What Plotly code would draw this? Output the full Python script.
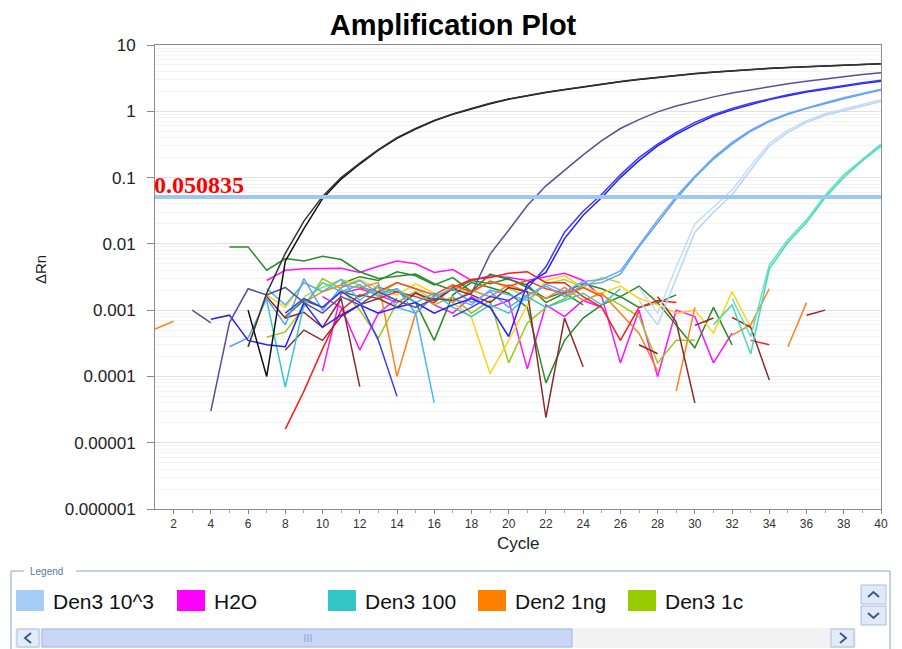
import math
import plotly.graph_objects as go

# ---------------- data ----------------
cycles = list(range(1, 41))

# amplification curves (start cycle, values)
black_a_start = 6
black_a = [0.001, 0.0001, 0.0055, 0.017, 0.048, 0.095, 0.16, 0.26, 0.39, 0.54, 0.72, 0.9, 1.08,
           1.3, 1.52, 1.72, 1.92, 2.12, 2.34, 2.56, 2.8, 3.02, 3.24, 3.46, 3.68, 3.88, 4.08, 4.26,
           4.42, 4.56, 4.7, 4.84, 4.96, 5.08, 5.2]
black_b_start = 6
black_b = [0.00028, 0.0018, 0.0072, 0.022, 0.052, 0.1, 0.165, 0.265, 0.4, 0.55, 0.73, 0.91, 1.1,
           1.32, 1.54, 1.74, 1.94, 2.14, 2.36, 2.58, 2.82, 3.04, 3.26, 3.48, 3.7, 3.9, 4.1, 4.28,
           4.44, 4.58, 4.72, 4.86, 4.98, 5.1, 5.22]
dslate_start = 4
dslate = [0.00003, 0.00065, 0.0021, 0.0017, 0.0022, 0.0013, 0.0009, 0.0016, 0.0012, 0.0019,
          0.0014, 0.0011, 0.0015, 0.0014, 0.0018, 0.007, 0.016, 0.038, 0.075, 0.13, 0.22, 0.36,
          0.55, 0.75, 0.98, 1.2, 1.42, 1.65, 1.88, 2.1, 2.35, 2.6, 2.85, 3.1, 3.35, 3.6, 3.8]
dslate_seg_start = 3
dslate_seg = [0.001, 0.00064]
blue1_start = 4
blue1 = [0.00073, 0.00084, 0.00035, 0.0003, 0.00028, 0.0013, 0.00055, 0.00085, 0.0012, 0.0009,
         0.0011, 0.0013, 0.0009, 0.0012, 0.0015, 0.0011, 0.0004, 0.0025, 0.0037, 0.012, 0.027,
         0.05, 0.1, 0.18, 0.3, 0.45, 0.63, 0.85, 1.05, 1.27, 1.5, 1.72, 1.95, 2.15, 2.4, 2.62, 2.85]
blue2_start = 8
blue2 = [0.0009, 0.0015, 0.0011, 0.0019, 0.0013, 0.00035, 0.00005, None, None, 0.0008, 0.0011,
         0.0016, 0.0014, 0.0021, 0.0045, 0.015, 0.031, 0.056, 0.11, 0.2, 0.32, 0.48, 0.68, 0.89,
         1.1, 1.32, 1.55, 1.78, 2.0, 2.22, 2.47, 2.7, 2.95]
cflower1_start = 5
cflower1 = [0.00028, 0.00038, 0.0015, 0.0006, 0.003, 0.001, 0.0022, 0.0028, 0.0018, 0.0021,
            0.0009, 0.0016, 0.0021, 0.0013, 0.0019, 0.0011, 0.0017, 0.0023, 0.0016, 0.0024,
            0.0026, 0.0035, 0.009, 0.021, 0.048, 0.1, 0.19, 0.32, 0.5, 0.7, 0.9, 1.1, 1.32,
            1.55, 1.8, 2.1]
cflower2_start = 17
cflower2 = [0.0015, 0.0012, 0.002, 0.0017, 0.0014, 0.0025, 0.0019, 0.0027, 0.0029, 0.0039,
            0.0095, 0.023, 0.052, 0.105, 0.2, 0.34, 0.52, 0.72, 0.93, 1.13, 1.35, 1.6, 1.85, 2.15]
skyblue_start = 7
skyblue = [0.0021, 0.0012, 0.0026, 0.0019, 0.0029, 0.0014, 0.0024, 0.0011, 0.0009, 0.00004]
vlight_a_start = 27
vlight_a = [0.0014, 0.0006, 0.003, 0.015, 0.03, 0.055, 0.13, 0.3, 0.48, 0.68, 0.87, 1.02, 1.2, 1.4]
vlight_b_start = 27
vlight_b = [0.0022, 0.0009, 0.0045, 0.02, 0.036, 0.065, 0.15, 0.33, 0.52, 0.72, 0.92, 1.08, 1.27, 1.5]
turq_a_start = 31
turq_a = [0.0006, 0.0012, 0.00022, 0.0042, 0.0105, 0.021, 0.05, 0.1, 0.18, 0.3]
turq_b_start = 32
turq_b = [0.0015, 0.0004, 0.0048, 0.0115, 0.023, 0.054, 0.11, 0.19, 0.32]

# baseline / no-amplification traces
magenta1_start = 7
magenta1 = [0.0028, 0.004, 0.0042, 0.0043, 0.0043, 0.0037, 0.0046, 0.0055, 0.005, 0.0037,
            0.0041, 0.0028, 0.0033, 0.0031, 0.0028, 0.0032, 0.0036, 0.0028, 0.0016, 0.00016,
            0.001, 0.0001, 0.001, 0.0008, 0.00016, 0.00045]
magenta2_start = 10
magenta2 = [0.00012, 0.0018, 0.0021, 0.0017, 0.0013, 0.0019, 0.0012, 0.0009, 0.0016, 0.0011,
            0.0014, 0.00013, 0.0012, 0.0008, 0.0014, 0.0011]
magenta3_start = 10
magenta3 = [0.0016, 0.0011, 0.00025, 0.0009, 0.0015]
green1_start = 5
green1 = [0.009, 0.009, 0.004, 0.006, 0.0055, 0.0065, 0.0058, 0.0038, 0.003, 0.0032, 0.0035,
          0.0025, 0.002, 0.0028, 0.0025, 0.003, 0.0022, 0.0015, 0.0019, 0.0025, 0.0021, 0.0016,
          0.0023, 0.0013, 0.0017]
green2_start = 8
green2 = [0.0008, 0.0014, 0.0011, 0.0019, 0.0016, 0.0022, 0.0019, 0.0013, 0.00035, 0.0017,
          0.0026, 0.0022, 0.0018, 0.0011, 0.00008, 0.00035, 0.00076, 0.0012, 0.0016, 0.0011,
          0.0013, 0.0006, 0.00027, 0.0011, 0.0003]
green3_start = 11
green3 = [0.0025, 0.0032, 0.0028, 0.0038, 0.0033, 0.0024, 0.0031, 0.0019, 0.0035, 0.0029,
          0.0024, 0.0013, 0.0018, 0.0012]
ygreen1_start = 7
ygreen1 = [0.00039, 0.00047, 0.0011, 0.003, 0.0021, 0.001, 0.00038, 0.0013, 0.0019, 0.0012,
           0.0016, 0.0009, 0.0014, 0.00016, 0.00064, 0.0011, 0.0015, 0.0022, 0.0017, 0.0012,
           0.0008, 0.00016, 0.00035, 0.00035]
ygreen2_start = 9
ygreen2 = [0.0016, 0.0022, 0.0029, 0.0024, 0.0017, 0.0026, 0.0021, 0.0014, 0.0023, 0.0018,
           0.0028, 0.0021, 0.0016, 0.0025, 0.0029, 0.0022, 0.0031, 0.0026]
yellow1_start = 6
yellow1 = [0.00028, 0.0017, 0.0011, 0.0026, 0.0019, 0.0024, 0.0029, 0.0021, 0.0017, 0.0025,
           0.0018, 0.0013, 0.00078, 0.00011, 0.00035, 0.0012, 0.0028, 0.0033, 0.0022, 0.0018,
           0.0023, 0.0015, 0.0012, 0.0009, 0.001, 0.00045, 0.0019, 0.00055]
orange1_start = 1
orange1 = [0.00052, 0.00068]
orange2_start = 9
orange2 = [0.0013, 0.0019, 0.0024, 0.0022, 0.0026, 0.0001, 0.0009, 0.0017, 0.0013, 0.002,
           0.0016, 0.0024, 0.0019, 0.0015, 0.0022, 0.0014, 0.0018, 0.0009, 0.00045, 0.00012]
orange3_start = 29
orange3 = [0.00006, 0.0011]
orange4_start = 32
orange4 = [0.00042, 0.0006, 0.0021]
orange5_start = 35
orange5 = [0.00028, 0.0013]
red1_start = 8
red1 = [0.000016, 0.00006, 0.00026, 0.001, 0.0017, 0.0015, 0.0019, 0.0016, 0.0013, 0.0022,
        0.0029, 0.0031, 0.0036, 0.0038, 0.0026, 0.0026, 0.0016, 0.0011, 0.00035, 0.0011,
        0.0014, 0.0013]
red2_start = 12
red2 = [0.0022, 0.0019, 0.0026, 0.0021, 0.0017, 0.0024, 0.0019, 0.0027, 0.0023, 0.0028,
        0.0021, 0.0018, 0.0022, 0.0016]
red3_start = 33
red3 = [0.00035, 0.0003]
brown1_start = 7
brown1 = [0.0016, 0.00076, 0.00093, 0.00055, 0.0015, 0.00007]
brown2_start = 8
brown2 = [0.00025, 0.0005, 0.00035, 0.0008, 0.0012, 0.0015, 0.0011, 0.0018, 0.0014, 0.0021,
          0.0017, 0.0013, 0.0022, 0.0019, 0.000024, 0.00076, 0.00014]
brown3_start = 27
brown3 = [0.0003, 0.00022]
brown4_start = 28
brown4 = [0.0016, 0.00066, 0.00004]
brown5_start = 30
brown5 = [0.00059, 0.00076]
brown6_start = 32
brown6 = [0.00078, 0.00055, 0.000088]
brown7_start = 36
brown7 = [0.00084, 0.001]
teal_start = 7
teal = [0.0014, 0.000069, 0.0012, 0.0026, 0.0019, 0.0024, 0.0016, 0.0021, 0.0013, 0.0018,
        0.0011, 0.0008, 0.0012, 0.0009, 0.0016, 0.0011, 0.0014, 0.0018, 0.0012, 0.0021]

threshold = 0.050835
threshold_label = "0.050835"

y_tickvals = [1e-6, 1e-5, 1e-4, 1e-3, 1e-2, 1e-1, 1, 10]
y_ticktext = ["0.000001", "0.00001", "0.0001", "0.001", "0.01", "0.1", "1", "10"]
x_tickvals = list(range(2, 41, 2))

legend_labels = ["Den3 10^3", "H2O", "Den3 100", "Den2 1ng", "Den3 1c"]
legend_colors = ["#a6cdf5", "#ff00ff", "#33c6c6", "#ff7f00", "#99cc00"]

# ---------------- styling ----------------
C_BLACK = "#111111"
C_DSLATE = "#55509c"
C_BLUE = "#2020ff"
C_CFLOWER = "#5ea0f6"
C_SKY = "#4ab6f2"
C_VLIGHT = "#b8d4f4"
C_TURQ = "#46d8b8"
C_MAG = "#ff10ff"
C_GREEN = "#2a8c2a"
C_YG = "#99cc11"
C_YEL = "#ffd21a"
C_ORA = "#ff8020"
C_RED = "#ff1a1a"
C_BROWN = "#8b2a2a"
C_TEAL = "#33c8cc"

noise_series = [
    (magenta1_start, magenta1, C_MAG), (magenta2_start, magenta2, C_MAG),
    (magenta3_start, magenta3, C_MAG),
    (green1_start, green1, C_GREEN), (green2_start, green2, C_GREEN),
    (green3_start, green3, C_GREEN),
    (ygreen1_start, ygreen1, C_YG), (ygreen2_start, ygreen2, "#b2d633"),
    (yellow1_start, yellow1, C_YEL),
    (orange1_start, orange1, C_ORA), (orange2_start, orange2, C_ORA),
    (orange3_start, orange3, C_ORA), (orange4_start, orange4, C_ORA),
    (orange5_start, orange5, C_ORA),
    (red1_start, red1, C_RED), (red2_start, red2, "#ff4422"), (red3_start, red3, C_RED),
    (brown1_start, brown1, C_BROWN), (brown2_start, brown2, C_BROWN),
    (brown3_start, brown3, C_BROWN), (brown4_start, brown4, C_BROWN),
    (brown5_start, brown5, C_BROWN), (brown6_start, brown6, C_BROWN),
    (brown7_start, brown7, C_BROWN),
    (teal_start, teal, C_TEAL), (skyblue_start, skyblue, C_SKY),
    (dslate_seg_start, dslate_seg, C_DSLATE),
]
amp_series = [
    (vlight_a_start, vlight_a, C_VLIGHT), (vlight_b_start, vlight_b, "#c6dcf2"),
    (turq_a_start, turq_a, C_TURQ), (turq_b_start, turq_b, "#5ee0c4"),
    (cflower1_start, cflower1, C_CFLOWER), (cflower2_start, cflower2, "#6aa8f8"),
    (blue1_start, blue1, C_BLUE), (blue2_start, blue2, "#3a3aff"),
    (dslate_start, dslate, C_DSLATE),
    (black_a_start, black_a, C_BLACK), (black_b_start, black_b, "#333333"),
]

fig = go.Figure()
for start, vals, color in noise_series + amp_series:
    xs = cycles[start - 1:start - 1 + len(vals)]
    fig.add_trace(go.Scatter(x=xs, y=vals, mode="lines", connectgaps=False,
                             line=dict(color=color, width=1.5),
                             showlegend=False, hoverinfo="skip"))

# pixel geometry (reference-window pixels); page body adds an 8px margin
OFF = 8
WIN_W, WIN_H = 902, 649
W, H = WIN_W - OFF, WIN_H - OFF
L, R, T, B = 155, 881, 45, 509


def px(x):
    return (x - L) / (R - L)


def py(y):
    return (B - y) / (B - T)


FONT = "Liberation Sans, Arial, sans-serif"
shapes = []
annotations = []

# threshold
shapes.append(dict(type="line", xref="x", yref="y", x0=1, x1=40, y0=threshold, y1=threshold,
                   line=dict(color="#9ec8f4", width=4), layer="above"))
annotations.append(dict(xref="x", yref="y", x=1, y=math.log10(threshold), text=threshold_label,
                        showarrow=False, xanchor="left", yanchor="bottom", yshift=-3,
                        xshift=-3,
                        font=dict(family="Liberation Serif, Times New Roman, serif", size=24,
                                  color="#ff0000", weight="bold")))

# axis titles
annotations.append(dict(xref="paper", yref="paper", x=px(40), y=py(270), text="ΔRn",
                        textangle=-90, showarrow=False, xanchor="center", yanchor="middle",
                        font=dict(family=FONT, size=15, color="#222")))
annotations.append(dict(xref="paper", yref="paper", x=px(519), y=py(543), text="Cycle",
                        showarrow=False, xanchor="center", yanchor="middle",
                        font=dict(family=FONT, size=17, color="#222")))

# legend frame
fc = "#87a4c8"
shapes += [
    dict(type="line", xref="paper", yref="paper", x0=px(11), x1=px(24), y0=py(571), y1=py(571), line=dict(color=fc, width=1)),
    dict(type="line", xref="paper", yref="paper", x0=px(76), x1=px(890), y0=py(571), y1=py(571), line=dict(color=fc, width=1)),
    dict(type="line", xref="paper", yref="paper", x0=px(11), x1=px(11), y0=py(571), y1=py(649), line=dict(color=fc, width=1)),
    dict(type="line", xref="paper", yref="paper", x0=px(890), x1=px(890), y0=py(571), y1=py(649), line=dict(color=fc, width=1)),
]
annotations.append(dict(xref="paper", yref="paper", x=px(28), y=py(571), text="Legend",
                        showarrow=False, xanchor="left", yanchor="middle",
                        font=dict(family=FONT, size=10, color="#5a7aa0")))

swatch_x = [16, 177, 328, 478, 628]
for sx, lab, col in zip(swatch_x, legend_labels, legend_colors):
    shapes.append(dict(type="rect", xref="paper", yref="paper", x0=px(sx), x1=px(sx + 28),
                       y0=py(611), y1=py(590), fillcolor=col, line=dict(width=0)))
    annotations.append(dict(xref="paper", yref="paper", x=px(sx + 35), y=py(601), text=lab,
                            showarrow=False, xanchor="left", yanchor="middle",
                            font=dict(family=FONT, size=21, color="#111")))

# vertical scroll buttons
for y0, y1 in [(585, 604), (606, 625)]:
    shapes.append(dict(type="rect", xref="paper", yref="paper", x0=px(861), x1=px(886),
                       y0=py(y1), y1=py(y0), fillcolor="#dfe9f8", line=dict(color="#a9bedc", width=1)))
shapes.append(dict(type="path", xref="paper", yref="paper",
                   path=f"M {px(868)},{py(597)} L {px(873.5)},{py(592)} L {px(879)},{py(597)}",
                   line=dict(color="#3b5a8c", width=2)))
shapes.append(dict(type="path", xref="paper", yref="paper",
                   path=f"M {px(868)},{py(613)} L {px(873.5)},{py(618)} L {px(879)},{py(613)}",
                   line=dict(color="#3b5a8c", width=2)))

# horizontal scrollbar
shapes.append(dict(type="rect", xref="paper", yref="paper", x0=px(15), x1=px(856), y0=py(648), y1=py(628),
                   fillcolor="#f2f2f4", line=dict(width=0)))
shapes.append(dict(type="rect", xref="paper", yref="paper", x0=px(17), x1=px(39), y0=py(647), y1=py(629),
                   fillcolor="#e2ebf8", line=dict(color="#aabcd8", width=1)))
shapes.append(dict(type="rect", xref="paper", yref="paper", x0=px(831), x1=px(854), y0=py(647), y1=py(629),
                   fillcolor="#e2ebf8", line=dict(color="#aabcd8", width=1)))
shapes.append(dict(type="rect", xref="paper", yref="paper", x0=px(42), x1=px(572), y0=py(647), y1=py(629),
                   fillcolor="#c9d6f6", line=dict(color="#a2b4e2", width=1)))
shapes.append(dict(type="path", xref="paper", yref="paper",
                   path=f"M {px(31)},{py(633)} L {px(25)},{py(638)} L {px(31)},{py(643)}",
                   line=dict(color="#3b5a8c", width=2)))
shapes.append(dict(type="path", xref="paper", yref="paper",
                   path=f"M {px(840)},{py(633)} L {px(846)},{py(638)} L {px(840)},{py(643)}",
                   line=dict(color="#3b5a8c", width=2)))
for gx in [305, 308, 311]:
    shapes.append(dict(type="line", xref="paper", yref="paper", x0=px(gx), x1=px(gx),
                       y0=py(642), y1=py(634), line=dict(color="#8a9cc8", width=1)))

minor_vals = [m * 10 ** e for e in range(-6, 1) for m in range(2, 10)]

fig.update_layout(
    width=W, height=H,
    margin=dict(l=L - OFF, r=WIN_W - R, t=T - OFF, b=WIN_H - B, pad=0),
    paper_bgcolor="white", plot_bgcolor="white",
    title=dict(text="<b>Amplification Plot</b>", x=(453 - OFF) / W, xanchor="center",
               y=1 - (25 - OFF) / H, yanchor="middle", yref="container",
               font=dict(family=FONT, size=29, color="#000")),
    xaxis=dict(range=[1, 40], tickvals=x_tickvals, ticks="outside", ticklen=4,
               tickcolor="#888", showgrid=False, zeroline=False,
               showline=True, linecolor="#8c8c8c", linewidth=1, mirror=True,
               tickfont=dict(family=FONT, size=12, color="#333"),
               minor=dict(tickvals=list(range(3, 40, 2)), ticks="outside", ticklen=3,
                          tickcolor="#aaa", showgrid=False)),
    yaxis=dict(type="log", range=[-6, 1], tickvals=y_tickvals, ticktext=y_ticktext,
               ticks="outside", ticklen=7, tickcolor="#888", ticklabelstandoff=8,
               showgrid=True, gridcolor="#e2e2e2", zeroline=False,
               showline=True, linecolor="#8c8c8c", linewidth=1, mirror=True,
               tickfont=dict(family=FONT, size=17, color="#222"),
               minor=dict(tickvals=minor_vals, ticks="", showgrid=True, gridcolor="#f3f3f3")),
    shapes=shapes, annotations=annotations,
)

fig.write_html("out.html")
